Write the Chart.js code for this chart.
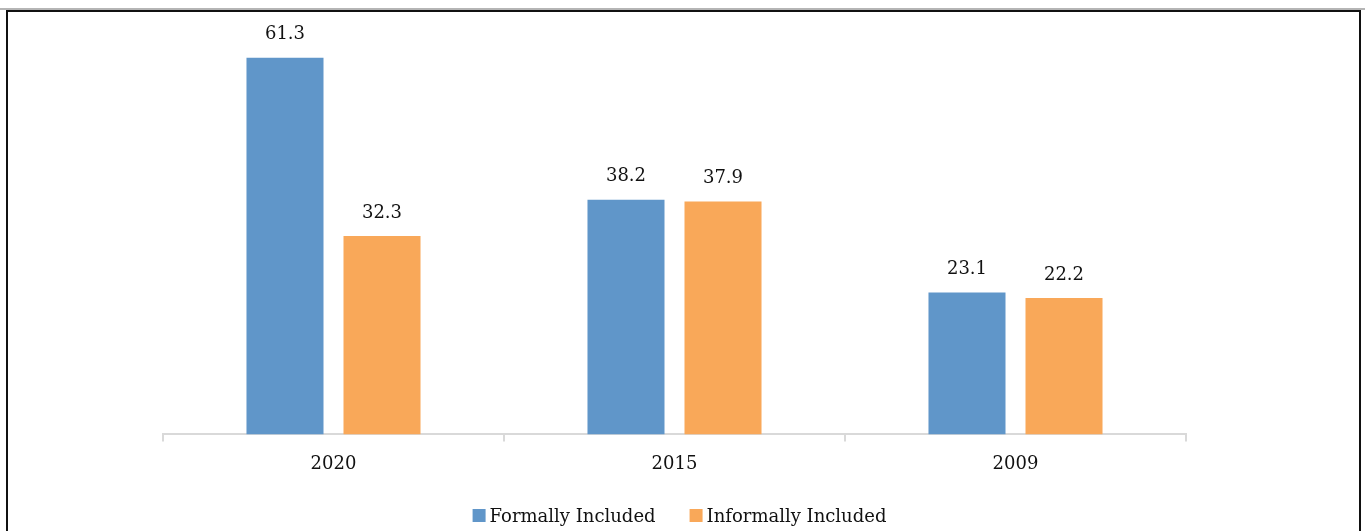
<!DOCTYPE html>
<html>
<head>
<meta charset="utf-8">
<script src="https://cdn.jsdelivr.net/npm/chart.js@4/dist/chart.umd.min.js"></script>
<style>
  html, body { margin: 0; padding: 0; background: #fff; }
  #wrap { position: relative; width: 1365px; height: 531px; overflow: hidden; }
  #topline { position: absolute; left: 0; top: 8px; width: 1365px; height: 2px; background: #b5b5b5; }
  #frame { position: absolute; left: 6px; top: 10px; width: 1351px; height: 540px; border: 2px solid #111; border-bottom: none; }
  canvas { position: absolute; left: 0; top: 0; }
</style>
</head>
<body>
<div id="wrap">
  <div id="topline"></div>
  <div id="frame"></div>
  <canvas id="c" width="1365" height="531"></canvas>
</div>
<script>
const categories = ['2020', '2015', '2009'];
const formallyIncluded = [61.3, 38.2, 23.1];
const informallyIncluded = [32.3, 37.9, 22.2];
const seriesNames = ['Formally Included', 'Informally Included'];
const seriesColors = ['#6096C9', '#F9A859'];

const FONT = '"DejaVu Serif", serif';

const valueLabels = {
  id: 'valueLabels',
  afterDatasetsDraw(chart) {
    const ctx = chart.ctx;
    ctx.save();
    ctx.font = '18px ' + FONT;
    ctx.fillStyle = '#111';
    ctx.textAlign = 'center';
    ctx.textBaseline = 'bottom';
    chart.data.datasets.forEach((ds, i) => {
      const meta = chart.getDatasetMeta(i);
      meta.data.forEach((bar, j) => {
        ctx.fillText(ds.data[j].toFixed(1), bar.x, bar.y - 14);
      });
    });
    ctx.restore();
  }
};

// Legend drawn below the axis, centred, with wider spacing between items
const bottomLegend = {
  id: 'bottomLegend',
  afterDraw(chart) {
    const ctx = chart.ctx;
    ctx.save();
    ctx.font = '18px ' + FONT;
    ctx.textBaseline = 'middle';
    ctx.textAlign = 'left';
    const box = 13, boxGap = 4, itemGap = 34;
    const items = chart.data.datasets.map(ds => ({ text: ds.label, color: ds.backgroundColor, w: ctx.measureText(ds.label).width }));
    let total = 0;
    items.forEach((it, i) => { total += box + boxGap + it.w + (i < items.length - 1 ? itemGap : 0); });
    let x = 679.5 - total / 2;
    const cy = 516;
    items.forEach(it => {
      ctx.fillStyle = it.color;
      ctx.fillRect(x, cy - 7, box, box);
      x += box + boxGap;
      ctx.fillStyle = '#111';
      ctx.fillText(it.text, x, cy + 1);
      x += it.w + itemGap;
    });
    ctx.restore();
  }
};

new Chart(document.getElementById('c'), {
  type: 'bar',
  data: {
    labels: categories,
    datasets: [
      { label: seriesNames[0], data: formallyIncluded, backgroundColor: seriesColors[0] },
      { label: seriesNames[1], data: informallyIncluded, backgroundColor: seriesColors[1] }
    ]
  },
  options: {
    responsive: false,
    animation: false,
    devicePixelRatio: 1,
    categoryPercentage: 0.569,
    barPercentage: 0.794,
    layout: { padding: { left: 163, right: 179, top: 35, bottom: 44 } },
    scales: {
      x: {
        grid: { offset: true, drawOnChartArea: false, color: '#d9d9d9', lineWidth: 2, tickLength: 7 },
        border: { color: '#d9d9d9', width: 2 },
        ticks: { color: '#111', font: { family: FONT, size: 18 }, padding: 12 }
      },
      y: { display: false, min: 0, max: 65 }
    },
    plugins: {
      legend: { display: false },
      tooltip: { enabled: false }
    }
  },
  plugins: [valueLabels, bottomLegend]
});
</script>
</body>
</html>
